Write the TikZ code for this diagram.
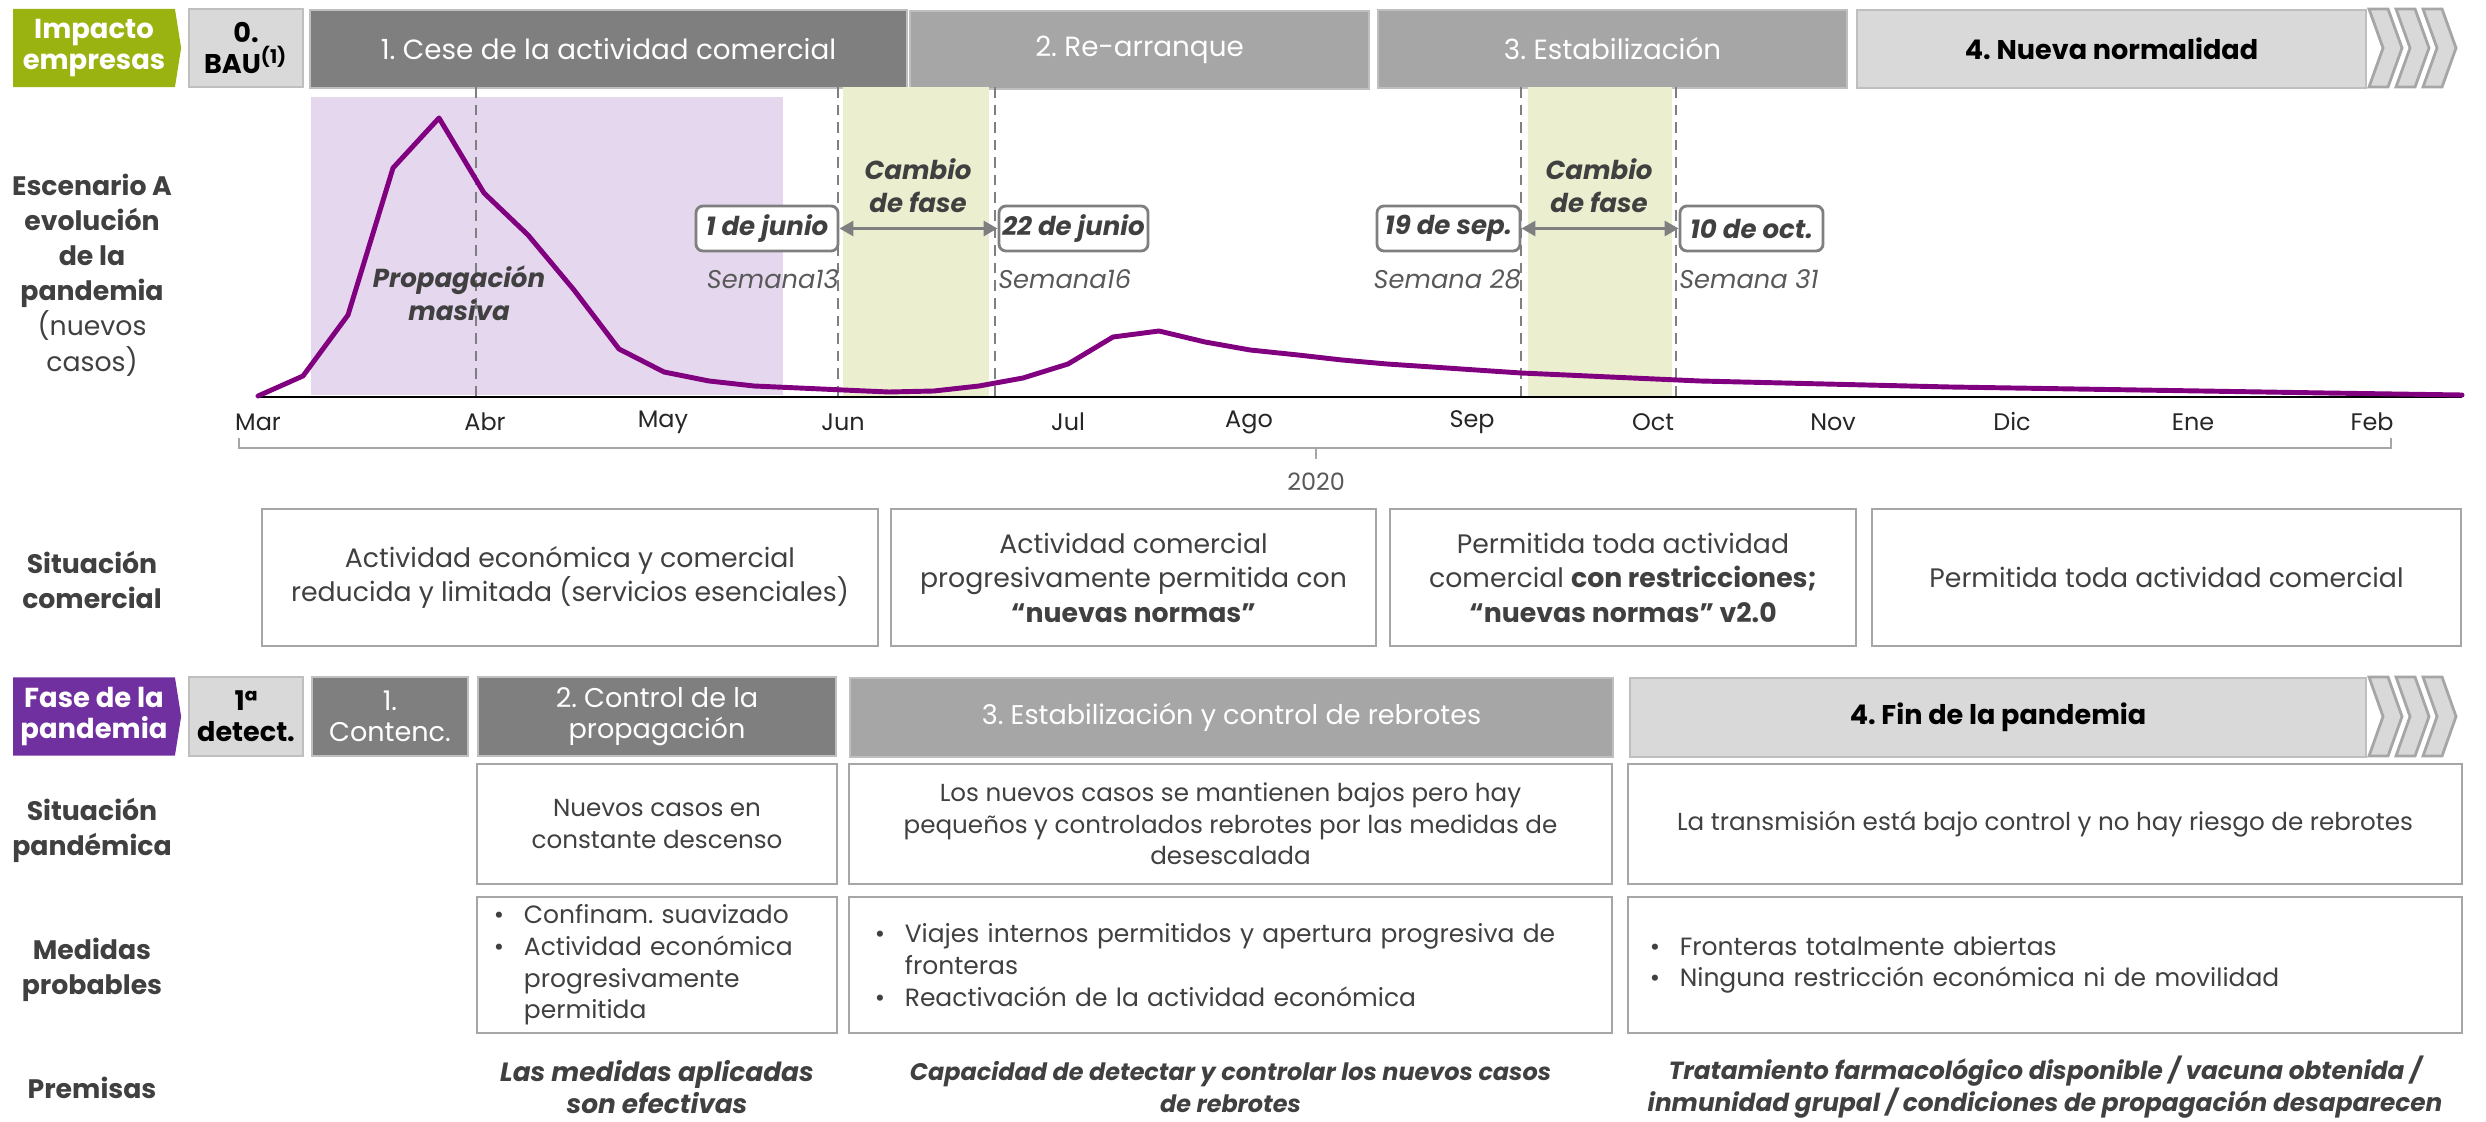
\documentclass[tikz,border=0pt]{standalone}
\usepackage{fontspec}
\setmainfont{Poppins}
\frenchspacing
\usetikzlibrary{positioning, shapes.symbols, arrows.meta}
\definecolor{impgreen}{HTML}{9BB310}
\definecolor{fasepurple}{HTML}{7030A0}
\definecolor{darkbox}{HTML}{7F7F7F}
\definecolor{midbox}{HTML}{A6A6A6}
\definecolor{lightbox}{HTML}{D9D9D9}
\definecolor{boxline}{HTML}{BFBFBF}
\definecolor{lavender}{HTML}{E4D7EE}
\definecolor{paleolive}{HTML}{EBEFD0}
\definecolor{curvepurple}{HTML}{800080}
\definecolor{txtdark}{HTML}{404040}
\definecolor{txtmid}{HTML}{595959}
\newcommand\fhead{\fontsize{7.9}{8.8}\selectfont}
\newcommand\fheadb{\fontsize{7.7}{8.8}\selectfont}
\newcommand\ftag{\fontsize{7.8}{8.8}\selectfont}
\newcommand\flabel{\fontsize{7.6}{10}\selectfont}
\newcommand\fbody{\fontsize{7.0}{9}\selectfont}
\newcommand\flist{\fontsize{7.1}{9}\selectfont}
\newcommand\fcom{\fontsize{7.6}{9.8}\selectfont}
\newcommand\fdate{\fontsize{7.4}{8}\selectfont}
\newcommand\fweek{\fontsize{7.3}{8}\selectfont}
\newcommand\fmonth{\fontsize{6.8}{8}\selectfont}
\newcommand\fchart{\fontsize{7.4}{9.4}\selectfont}
\newlength\bulw
\setlength\bulw{0.3cm}
\newcommand\bul{\makebox[\bulw][l]{•}}
\tikzset{
  tagbox/.style={signal, signal to=east, signal pointer angle=162, text=white,
                 font=\ftag\bfseries, align=center, inner sep=0pt,
                 minimum height=0.78cm, minimum width=1.68cm},
  hdrbox/.style={rectangle, draw=boxline, line width=0.5pt, align=center,
                 inner sep=0pt, minimum height=0.78cm, font=\fhead},
  hdrdark/.style={hdrbox, fill=darkbox, text=white},
  hdrmid/.style={hdrbox, fill=midbox, text=white},
  hdrlight/.style={hdrbox, fill=lightbox, text=black, font=\fheadb\bfseries},
  chev/.style={draw=midbox, fill=lightbox, line width=0.8pt},
  rowlabel/.style={align=center, text=txtdark, font=\flabel, inner sep=0pt},
  infobox/.style={rectangle, draw=midbox, line width=0.6pt, fill=white,
                  align=center, text=txtdark, inner sep=0pt, font=\fbody},
  listbox/.style={infobox, align=left, inner ysep=0pt, font=\flist},
  datebox/.style={rectangle, draw=darkbox, line width=0.8pt, rounded corners=0.07cm,
                  fill=white, font=\fdate\bfseries\itshape, text=txtdark,
                  inner sep=0pt, minimum height=0.45cm},
  weeklabel/.style={font=\fweek\itshape, text=txtmid, inner sep=0pt},
  monthlabel/.style={font=\fmonth, text=black!85, inner sep=0pt},
  chartnote/.style={font=\fchart\bfseries\itshape, text=txtdark, align=center, inner sep=0pt},
  premisa/.style={text=txtdark, align=center, inner sep=0pt},
  guide/.style={darkbox, line width=0.4pt, dash pattern=on 3pt off 2pt},
  curve/.style={curvepurple, line width=1.4pt, line join=round, line cap=round},
  bracket/.style={midbox, line width=0.5pt},
  phasearrow/.style={{Triangle[length=0.14cm,width=0.15cm]}-{Triangle[length=0.14cm,width=0.15cm]},
                     darkbox, line width=0.85pt},
}
\begin{document}
\begin{tikzpicture}[x=0.01cm, y=-0.01cm]
  \useasboundingbox (0,0) rectangle (2486,1122);

  % impacto empresas
  \node[tagbox, fill=impgreen] (imp) at (94,48) {Impacto\\empresas};
  \node[hdrlight, minimum width=1.14cm] (bau) at (246,48) {0.\\BAU\textsuperscript{(1)}};
  \node[hdrdark, minimum width=5.97cm] (cese) at (608.5,49) {1. Cese de la actividad comercial};
  \node[hdrmid, minimum width=4.59cm] (rearr) at (1139.5,50) {2. Re-arranque};
  \node[hdrmid, minimum width=4.69cm] (estab) at (1612.5,49) {3. Estabilización};
  \node[hdrlight, minimum width=5.09cm] (nueva) at (2111.5,49) {4. Nueva normalidad};
  \foreach \cx in {2369,2396,2423}
    \draw[chev] (\cx,9) -- ++(19,0) -- ++(14,39) -- ++(-14,39) -- ++(-19,0) -- ++(14,-39) -- cycle;

  % chart
  \fill[lavender] (311,97) rectangle (783,395);
  \fill[paleolive] (843,87) rectangle (989,396);
  \fill[paleolive] (1528,87) rectangle (1672,396);
  \foreach \gx in {476,838,995,1521,1676}
    \draw[guide] (\gx,87) -- (\gx,396);
  \draw[black, line width=0.85pt] (258,397) -- (2462,397);
  \draw[curve] plot coordinates {(258,396) (303,376) (348,315) (393,168) (439,118)
    (484,193) (528,235) (574,290) (619,349) (664,372) (709,381) (754,386) (799,388)
    (843,390) (889,392) (934,391) (979,386) (1023,378) (1068,364) (1113,337)
    (1159,331) (1205,342) (1250,350) (1298,355) (1342,360) (1387,364) (1432,367)
    (1476,370) (1521,373) (1566,375) (1610,377) (1655,379) (1700,381) (1825,384)
    (1950,387) (2076,389) (2201,391) (2326,393) (2462,395)};
  \foreach \mx/\mname in {258/Mar, 485/Abr, 663/May, 843/Jun, 1068/Jul, 1249/Ago,
                          1472/Sep, 1653/Oct, 1833/Nov, 2012/Dic, 2193/Ene, 2372/Feb}
    \node[monthlabel] (m-\mname) at (\mx,422) {\mname};
  \draw[bracket] (239,438) -- (239,448) -- (2391,448) -- (2391,438);
  \draw[bracket] (1316,448) -- (1316,459);
  \node[font=\fmonth, text=txtmid, inner sep=0pt] (year) at (1316,482) {2020};

  \node[chartnote] (prop) at (459,293) {Propagación\\masiva};
  \node[chartnote] (cambio1) at (918,186) {Cambio\\de fase};
  \node[chartnote] (cambio2) at (1599,186) {Cambio\\de fase};

  \node[datebox, minimum width=1.42cm] (d1) at (767,228.5) {1 de junio};
  \node[datebox, minimum width=1.49cm] (d2) at (1073.5,228.5) {22 de junio};
  \node[datebox, minimum width=1.43cm] (d3) at (1448.5,228.5) {19 de sep.};
  \node[datebox, minimum width=1.43cm] (d4) at (1751.5,228.5) {10 de oct.};
  \draw[phasearrow] (d1) -- (d2);
  \draw[phasearrow] (d3) -- (d4);
  \node[weeklabel, below left=0.16cm and 0cm of d1.south east] (w1) {Semana13};
  \node[weeklabel, below right=0.16cm and 0cm of d2.south west] (w2) {Semana16};
  \node[weeklabel, below left=0.16cm and 0cm of d3.south east] (w3) {Semana 28};
  \node[weeklabel, below right=0.16cm and 0cm of d4.south west] (w4) {Semana 31};

  % row labels
  \node[rowlabel] (lesc) at (92,275) {\textbf{Escenario A}\\\textbf{evolución}\\\textbf{de la}\\\textbf{pandemia}\\(nuevos\\casos)};
  \node[rowlabel, font=\flabel\bfseries] (lcom) at (92,580) {Situación\\comercial};
  \node[rowlabel, font=\flabel\bfseries] (lpan) at (92,830) {Situación\\pandémica};
  \node[rowlabel, font=\flabel\bfseries] (lmed) at (92,970) {Medidas\\probables};
  \node[rowlabel, font=\flabel\bfseries] (lpre) at (92,1088) {Premisas};

  % situacion comercial
  \node[infobox, font=\fcom, minimum width=6.16cm, minimum height=1.37cm] (sc1) at (570,577.5)
    {Actividad económica y comercial\\reducida y limitada (servicios esenciales)};
  \node[infobox, font=\fcom, minimum width=4.85cm, minimum height=1.37cm] (sc2) at (1133.5,577.5)
    {Actividad comercial\\progresivamente permitida con\\\textbf{“nuevas normas”}};
  \node[infobox, font=\fcom, minimum width=4.66cm, minimum height=1.37cm] (sc3) at (1623,577.5)
    {Permitida toda actividad\\comercial \textbf{con restricciones;}\\\textbf{“nuevas normas” v2.0}};
  \node[infobox, font=\fcom, minimum width=5.89cm, minimum height=1.37cm] (sc4) at (2166.5,577.5)
    {Permitida toda actividad comercial};

  % fase de la pandemia
  \node[tagbox, fill=fasepurple] (fase) at (94,716.5) {Fase de la\\pandemia};
  \node[hdrlight, minimum width=1.14cm, minimum height=0.79cm] (detect) at (246,716.5) {1ª\\detect.};
  \node[hdrdark, font=\fheadb, minimum width=1.56cm, minimum height=0.79cm] (contenc) at (390,716.5) {1.\\Contenc.};
  \node[hdrdark, font=\fheadb, minimum width=3.58cm, minimum height=0.79cm] (control) at (657,716.5) {2. Control de la\\propagación};
  \node[hdrmid, font=\fheadb, minimum width=7.63cm, minimum height=0.79cm] (rebrotes) at (1231.5,717.5) {3. Estabilización y control de rebrotes};
  \node[hdrlight, minimum width=7.36cm, minimum height=0.79cm] (fin) at (1998,717.5) {4. Fin de la pandemia};
  \foreach \cx in {2369,2396,2423}
    \draw[chev] (\cx,677) -- ++(19,0) -- ++(14,39.5) -- ++(-14,39.5) -- ++(-19,0) -- ++(14,-39.5) -- cycle;

  % situacion pandemica
  \node[infobox, minimum width=3.60cm, minimum height=1.20cm] (sp1) at (657,824)
    {Nuevos casos en\\constante descenso};
  \node[infobox, minimum width=7.63cm, minimum height=1.20cm] (sp2) at (1230.5,824)
    {Los nuevos casos se mantienen bajos pero hay\\pequeños y controlados rebrotes por las medidas de\\desescalada};
  \node[infobox, minimum width=8.34cm, minimum height=1.20cm] (sp3) at (2045,824)
    {La transmisión está bajo control y no hay riesgo de rebrotes};

  % medidas probables
  \node[listbox, inner xsep=0.17cm, text width=3.26cm, minimum height=1.36cm] (mp1) at (657,965)
    {\bul Confinam. suavizado\\\bul Actividad económica\\\hspace*{\bulw}progresivamente\\\hspace*{\bulw}permitida};
  \node[listbox, inner xsep=0.26cm, text width=7.11cm, minimum height=1.36cm] (mp2) at (1230.5,965)
    {\bul Viajes internos permitidos y apertura progresiva de\\\hspace*{\bulw}fronteras\\\bul Reactivación de la actividad económica};
  \node[listbox, inner xsep=0.22cm, text width=7.90cm, minimum height=1.36cm] (mp3) at (2045,965)
    {\bul Fronteras totalmente abiertas\\\bul Ninguna restricción económica ni de movilidad};

  % premisas
  \node[premisa, font=\fontsize{7.5}{9}\selectfont\bfseries\itshape] (pm1) at (657,1087) {Las medidas aplicadas\\son efectivas};
  \node[premisa, font=\fontsize{6.8}{9}\selectfont\bfseries\itshape] (pm2) at (1230.5,1087) {Capacidad de detectar y controlar los nuevos casos\\de rebrotes};
  \node[premisa, font=\fontsize{7.05}{9}\selectfont\bfseries\itshape] (pm3) at (2045,1087) {Tratamiento farmacológico disponible / vacuna obtenida /\\inmunidad grupal / condiciones de propagación desaparecen};
\end{tikzpicture}
\end{document}
